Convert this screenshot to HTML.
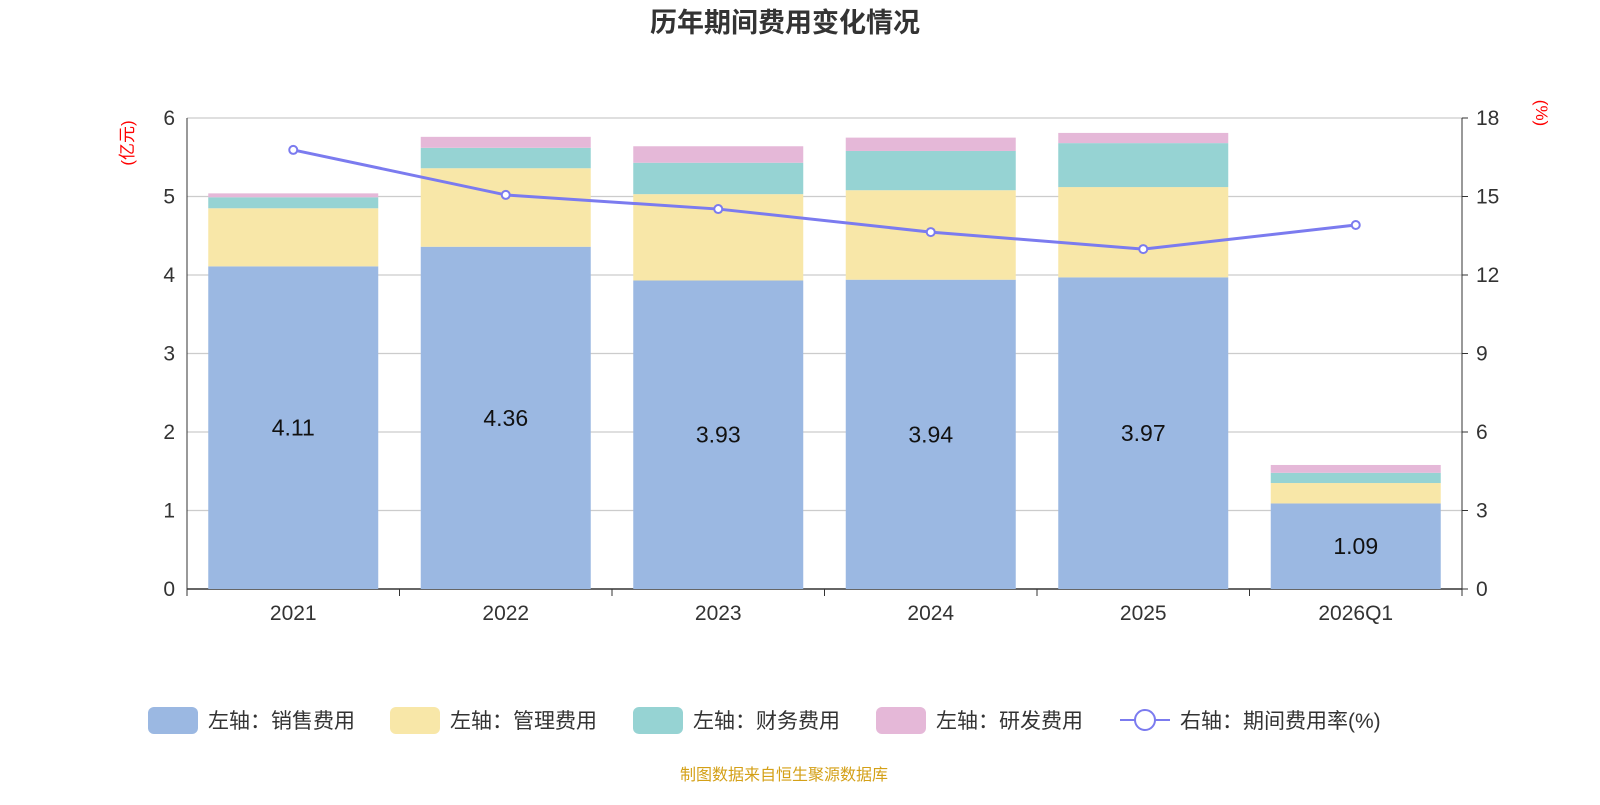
<!DOCTYPE html>
<html><head><meta charset="utf-8"><style>
body{margin:0;background:#fff;}
svg text{font-family:"Liberation Sans","Noto Sans CJK SC",sans-serif;}
</style></head><body>
<svg id="c" width="1600" height="800" xmlns="http://www.w3.org/2000/svg">
<text x="785" y="32" text-anchor="middle" font-size="27" font-weight="bold" fill="#333">历年期间费用变化情况</text>
<text transform="translate(133,143) rotate(-90)" text-anchor="middle" font-size="17" fill="#f00">(亿元)</text>
<text transform="translate(1536,113) rotate(90)" text-anchor="middle" font-size="17" fill="#f00">(%)</text>
<g id="grid"></g><g id="bars"></g><g id="line"></g><g id="axes"></g>
<g font-size="21" fill="#333">
<g><rect x="148" y="707" width="50" height="27" rx="6" fill="#9bb8e2"/><text x="208" y="728">左轴：销售费用</text></g>
<g><rect x="390" y="707" width="50" height="27" rx="6" fill="#f8e7a8"/><text x="450" y="728">左轴：管理费用</text></g>
<g><rect x="633" y="707" width="50" height="27" rx="6" fill="#96d3d3"/><text x="693" y="728">左轴：财务费用</text></g>
<g><rect x="876" y="707" width="50" height="27" rx="6" fill="#e5b8d8"/><text x="936" y="728">左轴：研发费用</text></g>
<g><line x1="1120" y1="720" x2="1170" y2="720" stroke="#7b7bef" stroke-width="2"/><circle cx="1145" cy="720" r="10" fill="#fff" stroke="#7b7bef" stroke-width="2"/><text x="1180" y="728">右轴：期间费用率(%)</text></g>
</g>
<text x="784" y="780" text-anchor="middle" font-size="16" fill="#d4a017">制图数据来自恒生聚源数据库</text>
</svg>
<script>
const categories=["2021","2022","2023","2024","2025","2026Q1"];
const sales=[4.11,4.36,3.93,3.94,3.97,1.09];
const admin=[0.74,1.00,1.10,1.14,1.15,0.26];
const finance=[0.14,0.26,0.40,0.50,0.56,0.13];
const rd=[0.05,0.14,0.21,0.17,0.13,0.10];
const rate=[16.78,15.06,14.52,13.64,12.99,13.91];
const leftTicks=[0,1,2,3,4,5,6];
const rightTicks=[0,3,6,9,12,15,18];
const X0=187,X1=1462,Y0=589,Y1=118;
const band=(X1-X0)/categories.length;
const yL=v=>Y0-(v/6)*(Y0-Y1);
const yR=v=>Y0-(v/18)*(Y0-Y1);
const xC=i=>X0+band*(i+0.5);
const NS="http://www.w3.org/2000/svg";
function mk(tag,attrs,parent,txt){const e=document.createElementNS(NS,tag);for(const k in attrs)e.setAttribute(k,attrs[k]);if(txt!==undefined)e.textContent=txt;document.getElementById(parent).appendChild(e);return e;}
leftTicks.forEach((t,i)=>{
 const g=mk('line',{x1:X0,x2:X1,y1:yL(t),y2:yL(t),stroke:i===0?'#333':'#ccc','stroke-width':i===0?1.5:1.2},'grid');
 
 
 const a=mk('text',{x:X0-12,y:yL(t)+7,'text-anchor':'end','font-size':21,fill:'#333'},'axes',t);
 
 
});
rightTicks.forEach(t=>{
 const a=mk('text',{x:X1+14,y:yR(t)+7,'font-size':21,fill:'#333'},'axes',t);
 
 
 mk('line',{x1:X1,x2:X1+6,y1:yR(t),y2:yR(t),stroke:'#333'},'axes');
});
mk('line',{x1:X0,x2:X0,y1:Y1,y2:Y0,stroke:'#333'},'axes');
mk('line',{x1:X1,x2:X1,y1:Y1,y2:Y0,stroke:'#333'},'axes');
for(let i=0;i<=categories.length;i++)mk('line',{x1:X0+band*i,x2:X0+band*i,y1:Y0,y2:Y0+7,stroke:'#333'},'axes');
categories.forEach((c,i)=>{
 const t=mk('text',{x:xC(i),y:Y0+31,'text-anchor':'middle','font-size':21,fill:'#333'},'axes',c);
 
 
 const series=[[sales,'#9bb8e2','sales'],[admin,'#f8e7a8','admin'],[finance,'#96d3d3','finance'],[rd,'#e5b8d8','rd']];
 let base=0;const w=170;
 series.forEach(([arr,col,nm])=>{
  const top=base+arr[i];
  const r=mk('rect',{x:xC(i)-w/2,y:yL(top),width:w,height:yL(base)-yL(top),fill:col},'bars');
  
  
  base=top;
 });
 const l=mk('text',{x:xC(i),y:(yL(0)+yL(sales[i]))/2+8,'text-anchor':'middle','font-size':23,fill:'#111'},'bars',sales[i].toFixed(2));
 
 
});
const p=mk('polyline',{points:rate.map((v,i)=>xC(i)+','+yR(v)).join(' '),fill:'none',stroke:'#7b7bef','stroke-width':3},'line');


rate.forEach((v,i)=>{
 const d=mk('circle',{cx:xC(i),cy:yR(v),r:4,fill:'#fff',stroke:'#7b7bef','stroke-width':2},'line');
 
 
});
</script>
</body></html>
